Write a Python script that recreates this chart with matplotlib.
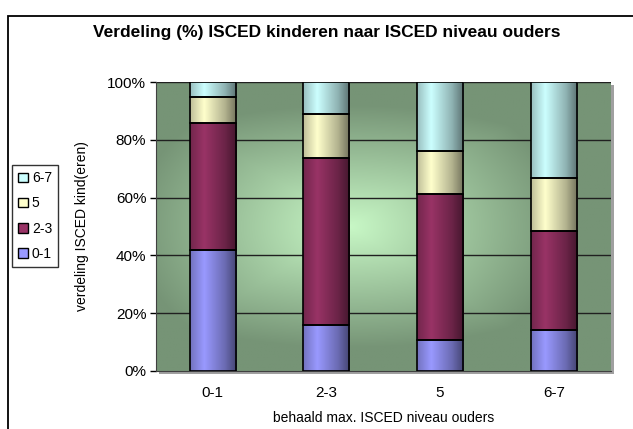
import numpy as np
import matplotlib
matplotlib.use("Agg")
import matplotlib.pyplot as plt
from matplotlib.patches import Rectangle
from matplotlib.colors import to_rgb

plt.rcParams['font.family'] = ['Liberation Sans', 'DejaVu Sans']

# data (percent per parent level)
cats = ["0-1", "2-3", "5", "6-7"]
series = ["0-1", "2-3", "5", "6-7"]
v_01 = [41.8, 15.8, 10.6, 14.1]
v_23 = [44.0, 58.1, 50.8, 34.3]
v_5 = [9.1, 15.0, 14.7, 18.4]
v_67 = [5.1, 11.1, 23.9, 33.2]
colors = ["#9999FF", "#993366", "#FFFFCC", "#CCFFFF"]

W, H = 633, 429
fig = plt.figure(figsize=(W/100, H/100), dpi=100)

# outer chart frame (cut off right/bottom)
fig.patches.append(Rectangle((8/W, -0.05), 1.2, 1-16/H+0.05, transform=fig.transFigure,
                             fill=False, ec="black", lw=1.3))

l, r, t, b = 156, 610.5, 82.3, 370.7
ax = fig.add_axes([l/W, 1-b/H, (r-l)/W, (b-t)/H])
ax.set_zorder(2)

# plot area shadow
fig.patches.append(Rectangle(((l+3)/W, 1-(b+3)/H), (r-l)/W, (b-t)/H, transform=fig.transFigure,
                             fc="#a0a0a0", ec="none", zorder=-1))

# green background gradient from centre
gx, gy = np.meshgrid(np.linspace(-1, 1, 300), np.linspace(-1, 1, 200))
d = np.clip(np.sqrt(((gx+0.15)/1.0)**2*0.6 + (gy/1.0)**2*0.9 + np.maximum(np.abs(gx+0.15), np.abs(gy))**2*0.5), 0, 1)
c_in = np.array([200, 248, 198])/255
c_out = np.array([118, 148, 118])/255
bg = c_in[None, None, :]*(1-d[..., None]) + c_out[None, None, :]*d[..., None]
ax.imshow(bg, extent=[0, 1, 0, 1], transform=ax.transAxes, aspect="auto", zorder=0)

x = np.arange(len(cats))
for yv in [20, 40, 60, 80, 100]:
    ax.axhline(yv, color="#202020", lw=1.0, zorder=1)

# bar shading profile across the width
prof_t = [0.0, 0.3, 0.75, 1.0]
prof_f = [0.75, 1.0, 0.7, 0.45]
tt = np.linspace(0, 1, 60)
shade = np.interp(tt, prof_t, prof_f)

w = 0.405
vals = [v_01, v_23, v_5, v_67]
bottom = np.zeros(len(cats))
for vs, col in zip(vals, colors):
    rgb = np.array(to_rgb(col))
    grad = np.clip(rgb[None, None, :]*shade[None, :, None], 0, 1)
    for i in range(len(cats)):
        ax.imshow(grad, extent=[x[i]-w/2, x[i]+w/2, bottom[i], bottom[i]+vs[i]],
                  aspect="auto", zorder=2)
        ax.add_patch(Rectangle((x[i]-w/2, bottom[i]), w, vs[i], fill=False, ec="black", lw=1.2, zorder=3))
    bottom = bottom + np.array(vs)
ax.set_xlim(-0.5, len(cats)-0.5)
ax.set_ylim(0, 100)

ax.set_xticks(x)
ax.set_xticklabels(cats, fontsize=11)
ax.tick_params(axis="x", length=0, pad=11)
ax.set_yticks([0, 20, 40, 60, 80, 100])
ax.set_yticklabels(["0%", "20%", "40%", "60%", "80%", "100%"], fontsize=11)
ax.tick_params(axis="y", length=4, width=1, pad=3)
for s in ["top", "right"]:
    ax.spines[s].set_visible(False)
ax.spines["left"].set_color("#404040")
ax.spines["bottom"].set_color("#404040")

ax.set_xlabel("behaald max. ISCED niveau ouders", fontsize=10, labelpad=8)
ax.set_ylabel("verdeling ISCED kind(eren)", fontsize=10, labelpad=13)

fig.text(327/W, 1-32.7/H, "Verdeling (%) ISCED kinderen naar ISCED niveau ouders",
         ha="center", va="center", fontsize=12.5, fontweight="bold")

handles = [Rectangle((0, 0), 1, 1, fc=c, ec="black", lw=1) for c in colors]
leg = fig.legend(handles[::-1], series[::-1], loc="center", bbox_to_anchor=(35/W, 1-216/H),
                 fontsize=10, frameon=True, fancybox=False, edgecolor="black",
                 handlelength=0.7, handleheight=0.7, handletextpad=0.3, labelspacing=0.8,
                 borderpad=0.45, borderaxespad=0)
leg.get_frame().set_linewidth(1.0)

fig.savefig("out.png", dpi=100)
